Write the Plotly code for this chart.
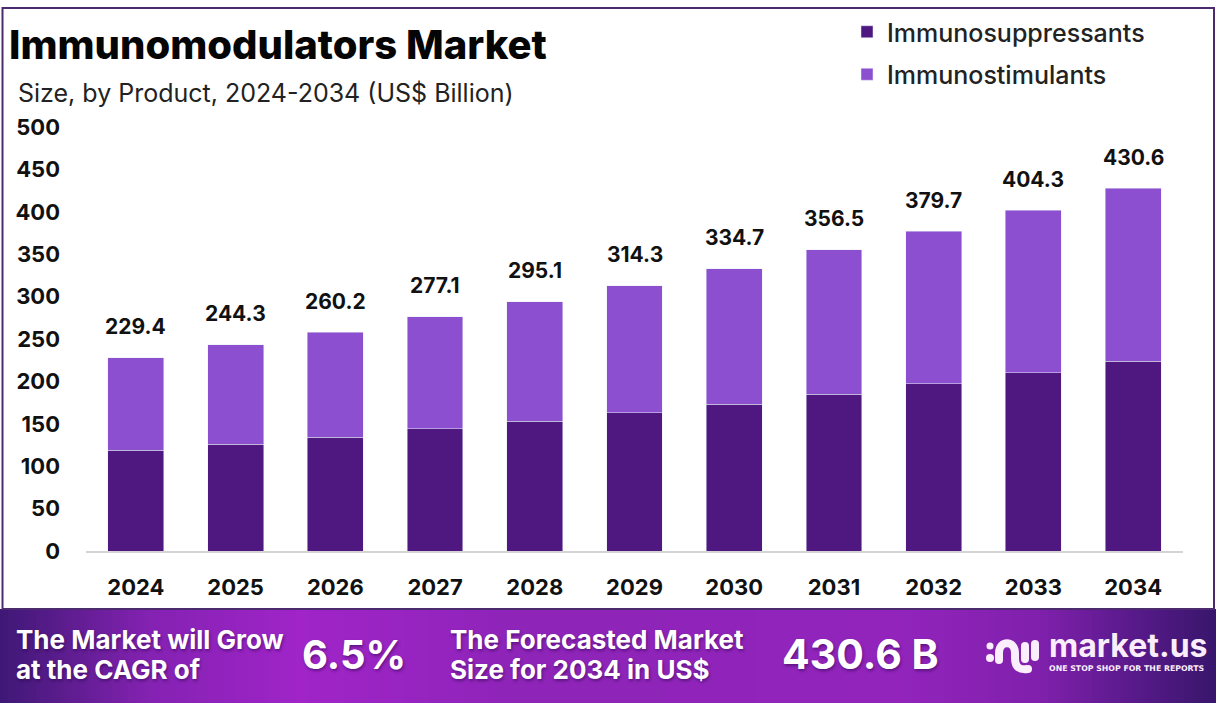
import plotly.graph_objects as go

W, H = 1216, 712
years = ["2024", "2025", "2026", "2027", "2028", "2029", "2030", "2031", "2032", "2033", "2034"]
immunosuppressants = [119, 126, 134, 144, 153, 163, 173, 185, 197, 210, 224]
immunostimulants = [109, 117, 124, 132, 141, 150, 160, 170, 180, 192, 204]
total_labels = ["229.4", "244.3", "260.2", "277.1", "295.1", "314.3", "334.7", "356.5", "379.7", "404.3", "430.6"]
y_ticks = [0, 50, 100, 150, 200, 250, 300, 350, 400, 450, 500]

FONT = "Inter"
def px(x): return x / W
def py(y): return 1 - y / H

fig = go.Figure()
fig.add_bar(x=years, y=immunosuppressants, name="Immunosuppressants", marker_color="#4f1780", legendgroup="a")
fig.add_bar(x=years, y=immunostimulants, name="Immunostimulants", marker_color="#8b4fd0", legendgroup="b")

shapes = []
annots = []

# banner gradient
stops = [(0, (62, 24, 118)), (60, (90, 28, 140)), (150, (132, 34, 178)), (300, (160, 36, 200)),
         (520, (142, 36, 184)), (900, (146, 36, 188)), (1040, (128, 32, 172)), (1130, (90, 26, 140)), (1216, (56, 22, 108))]
def grad(x):
    for (a, ca), (b, cb) in zip(stops, stops[1:]):
        if a <= x <= b:
            t = (x - a) / (b - a)
            return "rgb(%d,%d,%d)" % tuple(round(p + (q - p) * t) for p, q in zip(ca, cb))
    return "rgb(56,22,108)"
for x in range(0, W, 4):
    shapes.append(dict(type="rect", xref="paper", yref="paper", x0=px(x), x1=px(x + 4.5), y0=py(703), y1=py(609),
                       fillcolor=grad(x + 2), line_width=0, layer="below"))

# outer frame
shapes.append(dict(type="rect", xref="paper", yref="paper", x0=px(2.5), x1=px(1214), y0=py(609), y1=py(8),
                   line=dict(color="#4b2a6e", width=2), layer="below"))

# logo glyph
LOGO = "#fbeefc"
def P(x, y): return f"{px(x):.5f},{py(y):.5f}"
def stroke(d):
    shapes.append(dict(type="path", xref="paper", yref="paper", path=d, line=dict(color=LOGO, width=8), layer="above"))
def dot(x, y, r=4):
    shapes.append(dict(type="circle", xref="paper", yref="paper", x0=px(x - r), x1=px(x + r), y0=py(y + r), y1=py(y - r),
                       fillcolor=LOGO, line_width=0, layer="above"))
stroke(f"M{P(999,660)} L{P(999,653)} C{P(999,640)} {P(1015,640)} {P(1015,653)} L{P(1015,658)} C{P(1015,668)} {P(1020,670)} {P(1028,669)}")
dot(999, 660); dot(1028, 669)
stroke(f"M{P(1025,646)} L{P(1025,659)}")
dot(1025, 646); dot(1025, 659)
stroke(f"M{P(1035,644)} L{P(1035,657)}")
dot(1035, 644); dot(1035, 657)
dot(990, 646, 3.5); dot(990, 658, 4)

def txt(s, x, y, size, color="#000", weight=700, anchor="left", shadow=None, family=FONT):
    f = dict(family=family, size=size, color=color, weight=weight)
    if shadow:
        f["shadow"] = shadow
    annots.append(dict(text=s, xref="paper", yref="paper", x=px(x), y=py(y), xanchor=anchor, yanchor="middle",
                       showarrow=False, font=f))

txt("Immunomodulators Market", 7, 45, 40, "#050505", 800)
txt("Size, by Product, 2024-2034 (US$ Billion)", 16, 93, 25, "#222222", 400)

sh = "1px 2px 3px rgba(30,0,60,0.45)"
txt("The Market will Grow", 14, 639, 26, "#fff", 700, shadow=sh)
txt("at the CAGR of", 14, 669, 26, "#fff", 700, shadow=sh)
txt("6.5%", 354, 654, 40, "#fff", 700, "center", sh)
txt("The Forecasted Market", 448, 639, 26, "#fff", 700, shadow=sh)
txt("Size for 2034 in US$", 448, 669, 26, "#fff", 700, shadow=sh)
txt("430.6 B", 860, 654, 41, "#fff", 700, "center", sh)
txt("market.us", 1047, 645, 32, LOGO, 700)
txt("ONE STOP SHOP FOR THE REPORTS", 1127, 668, 7.8, LOGO, 700, "center", family="DejaVu Sans")

# total labels above bars
for i, (a, b, label) in enumerate(zip(immunosuppressants, immunostimulants, total_labels)):
    annots.append(dict(text=label, x=i, y=a + b, xref="x", yref="y", yanchor="middle", yshift=31, showarrow=False,
                       font=dict(family=FONT, size=21, color="#111", weight=700)))

fig.update_layout(
    width=W, height=H, autosize=False,
    margin=dict(l=0, r=0, t=0, b=0, autoexpand=False),
    paper_bgcolor="white", plot_bgcolor="white",
    barmode="stack", bargap=0.44,
    shapes=shapes, annotations=annots,
    font=dict(family=FONT),
    xaxis=dict(domain=[px(86), px(1183)], type="category", range=[-0.5, 10.5], showgrid=False, ticks="", showline=True,
               linecolor="#d4d4d4", linewidth=2, tickfont=dict(size=22, color="#111", weight=700), ticklabelstandoff=16),
    yaxis=dict(domain=[py(551), py(127)], range=[0, 500], tickvals=y_ticks, showgrid=False, zeroline=False, ticks="",
               tickfont=dict(size=22, color="#111", weight=700), ticklabelstandoff=25),
    legend=dict(x=px(847), y=py(9), xanchor="left", yanchor="top", orientation="v", traceorder="grouped",
                tracegroupgap=7, bgcolor="rgba(0,0,0,0)", font=dict(size=25, color="#222", weight=500, family=FONT)),
)
fig.write_html("out.html", config={"displayModeBar": False}, post_script="document.body.style.margin='0';")
